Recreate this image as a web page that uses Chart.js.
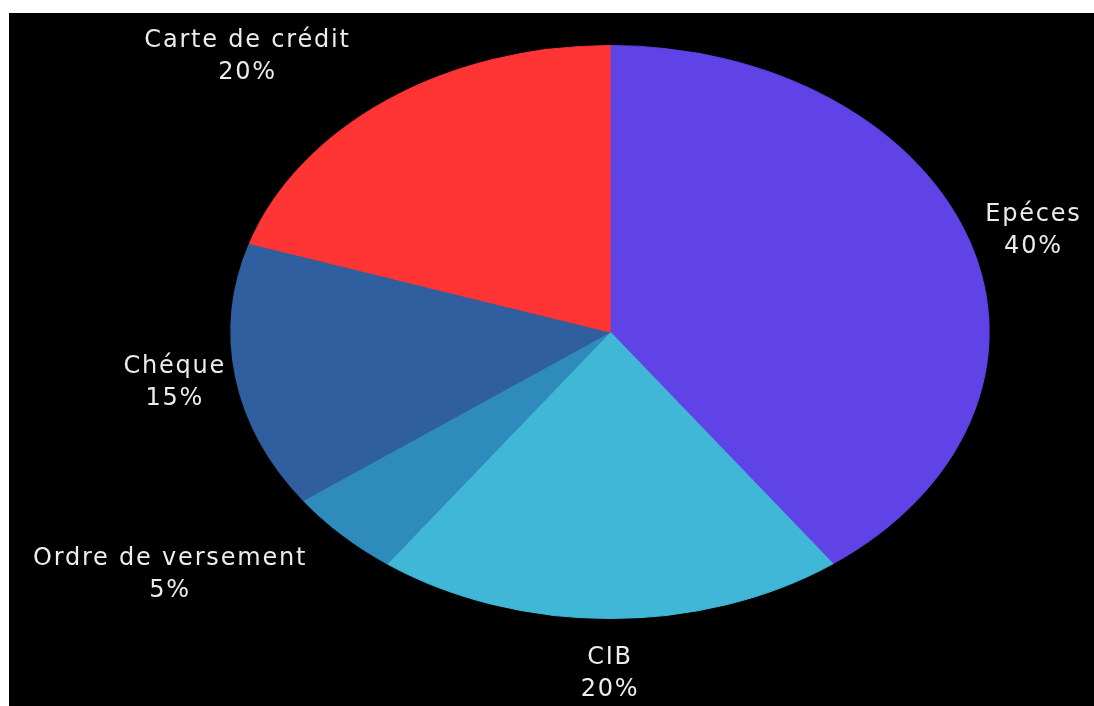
<!DOCTYPE html>
<html>
<head>
<meta charset="utf-8">
<script src="https://cdn.jsdelivr.net/npm/chart.js@4.4.0/dist/chart.umd.min.js"></script>
<style>
  html, body { margin: 0; padding: 0; background: #fff; width: 1094px; height: 706px; overflow: hidden; }
  #frame { position: absolute; left: 9px; top: 13px; width: 1085px; height: 693px; background: #000; }
  canvas { display: block; }
</style>
</head>
<body>
<div id="frame"><canvas id="pie" width="1085" height="693"></canvas></div>
<script>
// Moyens de paiement (part en %)
const categories = ['Epéces', 'CIB', 'Ordre de versement', 'Chéque', 'Carte de crédit'];
const shares = [40, 20, 5, 15, 20];
const sliceColors = ['#5f43e6', '#41b7d7', '#2e8bbb', '#2f5f9f', '#ff3434'];

// The pie is stretched horizontally into an ellipse.
const STRETCH_X = 379 / 286.5;
const LINE_H = 32;

const ellipsePie = {
  id: 'ellipsePie',
  beforeDatasetsDraw(chart) {
    const arc = chart.getDatasetMeta(0).data[0];
    const ctx = chart.ctx;
    ctx.save();
    ctx.translate(arc.x, arc.y);
    ctx.scale(STRETCH_X, 1);
    ctx.translate(-arc.x, -arc.y);
  },
  afterDatasetsDraw(chart) {
    const ctx = chart.ctx;
    ctx.restore();

    const meta = chart.getDatasetMeta(0);
    const values = chart.data.datasets[0].data;
    const total = values.reduce((a, b) => a + b, 0);

    ctx.save();
    ctx.font = '24px "DejaVu Sans"';
    ctx.letterSpacing = '1.8px';
    ctx.fillStyle = '#ececec';
    ctx.textAlign = 'center';
    ctx.textBaseline = 'middle';

    meta.data.forEach((arc, i) => {
      const p = arc.getProps(['x', 'y', 'startAngle', 'endAngle', 'outerRadius'], true);
      const mid = (p.startAngle + p.endAngle) / 2;
      const ux = Math.cos(mid), uy = Math.sin(mid);
      const lines = [chart.data.labels[i], Math.round(values[i] / total * 100) + '%'];
      const w = Math.max(...lines.map(t => ctx.measureText(t).width));
      const h = LINE_H * 2;

      // anchor just outside the ellipse, then push the text block away from it
      const gx = Math.abs(ux) < 0.1 ? 0 : Math.sign(ux);
      const kx = 1.02 + 0.22 * uy * uy;
      const ky = 1.03 + 0.05 * Math.pow(uy, 4);
      const uyn = uy / Math.max(Math.abs(ux), Math.abs(uy));
      const cx = p.x + ux * p.outerRadius * STRETCH_X * kx + gx * w / 2;
      const cy = p.y + uy * p.outerRadius * ky + uyn * h / 2;

      ctx.fillText(lines[0], cx, cy - LINE_H / 2);
      ctx.fillText(lines[1], cx, cy + LINE_H / 2);
    });
    ctx.restore();
  }
};

new Chart(document.getElementById('pie'), {
  type: 'pie',
  data: {
    labels: categories,
    datasets: [{
      data: shares,
      backgroundColor: sliceColors,
      borderColor: sliceColors,
      borderWidth: 1,
      hoverOffset: 0,
      clip: false
    }]
  },
  options: {
    responsive: false,
    devicePixelRatio: 1,
    animation: false,
    layout: { padding: { top: 32, bottom: 87, left: 314, right: 197 } },
    plugins: {
      legend: { display: false },
      tooltip: { enabled: false }
    },
    events: []
  },
  plugins: [ellipsePie]
});
</script>
</body>
</html>
